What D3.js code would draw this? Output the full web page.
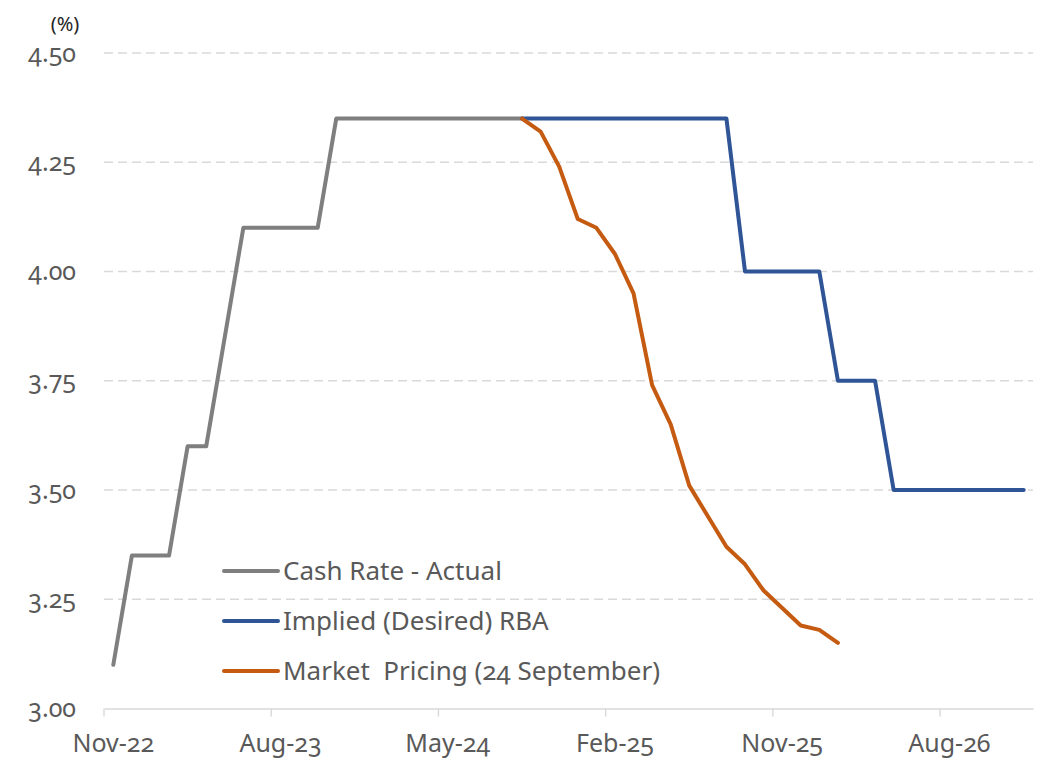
<!DOCTYPE html>
<html>
<head>
<meta charset="utf-8">
<script src="https://cdn.jsdelivr.net/npm/d3@7"></script>
<style>
  body { margin: 0; background: #fff; }
  svg { font-family: "Noto Sans", sans-serif; font-feature-settings: "onum"; }
</style>
</head>
<body>
<script>
// Months on the category axis: Nov-22 .. Dec-26 (50 categories)
const months = d3.utcMonth.range(new Date(Date.UTC(2022, 10, 1)), new Date(Date.UTC(2027, 0, 1)))
    .map(d3.utcFormat("%b-%y"));

// Cash rate actual, starting Nov-22
const cashRate = [3.10, 3.35, 3.35, 3.35, 3.60, 3.60, 3.85, 4.10, 4.10, 4.10, 4.10, 4.10,
    4.35, 4.35, 4.35, 4.35, 4.35, 4.35, 4.35, 4.35, 4.35, 4.35, 4.35];

// Implied (desired) RBA path, starting Sep-24
const impliedStart = 22;
const implied = [4.35, 4.35, 4.35, 4.35, 4.35, 4.35, 4.35, 4.35, 4.35, 4.35, 4.35, 4.35,
    4.00, 4.00, 4.00, 4.00, 4.00, 3.75, 3.75, 3.75,
    3.50, 3.50, 3.50, 3.50, 3.50, 3.50, 3.50, 3.50];

// Market pricing (24 September), starting Sep-24
const marketStart = 22;
const market = [4.35, 4.32, 4.24, 4.12, 4.10, 4.04, 3.95, 3.74, 3.65, 3.51, 3.44, 3.37,
    3.33, 3.27, 3.23, 3.19, 3.18, 3.15];

const yTicks = [3.00, 3.25, 3.50, 3.75, 4.00, 4.25, 4.50];
const xLabelEvery = 9;

const series = [
    { name: "Cash Rate - Actual", start: 0, values: cashRate, color: "#7f7f7f" },
    { name: "Implied (Desired) RBA", start: impliedStart, values: implied, color: "#2f5597" },
    { name: "Market  Pricing (24 September)", start: marketStart, values: market, color: "#c55a11" }
];

const width = 1050;
const height = 771;
const marginLeft = 104;
const marginRight = 17;
const marginTop = 53;
const marginBottom = 62.5;

const svg = d3.select("body").append("svg")
    .attr("width", width)
    .attr("height", height)
    .attr("viewBox", [0, 0, width, height]);

const x = d3.scaleBand()
    .domain(months)
    .range([marginLeft, width - marginRight])
    .padding(0);
const bw = x.bandwidth();

const y = d3.scaleLinear()
    .domain([3.0, 4.5])
    .range([height - marginBottom, marginTop]);

// Dashed gridlines
svg.append("g")
    .selectAll("line")
    .data(yTicks.slice(1))
    .join("line")
    .attr("x1", marginLeft)
    .attr("x2", width - marginRight)
    .attr("y1", d => y(d))
    .attr("y2", d => y(d))
    .attr("stroke", "#d9d9d9")
    .attr("stroke-width", 1.4)
    .attr("stroke-dasharray", "9,5");

// Y axis labels
svg.append("g")
    .attr("transform", `translate(${marginLeft},0)`)
    .call(d3.axisLeft(y).tickValues(yTicks).tickFormat(d3.format(".2f")).tickSize(0).tickPadding(28))
    .call(g => g.select(".domain").remove())
    .call(g => g.selectAll("text")
        .attr("fill", "#595959")
        .attr("font-size", 25)
        .attr("font-family", "\"Noto Sans\", sans-serif"));

svg.append("text")
    .attr("x", 65)
    .attr("y", 31)
    .attr("text-anchor", "middle")
    .attr("fill", "#262626")
    .attr("font-size", 20)
    .text("(%)");

// X axis: ticks between categories, label every 9 months
const labelMonths = months.filter((d, i) => i % xLabelEvery === 0);
svg.append("g")
    .attr("transform", `translate(0,${height - marginBottom})`)
    .call(d3.axisBottom(x).tickValues(labelMonths).tickSize(0).tickPadding(26))
    .call(g => g.select(".domain")
        .attr("stroke", "#d9d9d9")
        .attr("stroke-width", 1.4))
    .call(g => g.selectAll(".tick text")
        .attr("fill", "#595959")
        .attr("font-size", 25)
        .attr("font-family", "\"Noto Sans\", sans-serif"))
    .call(g => g.selectAll(".tick").append("line")
        .attr("x1", -bw / 2)
        .attr("x2", -bw / 2)
        .attr("y1", 0)
        .attr("y2", 8)
        .attr("stroke", "#d9d9d9")
        .attr("stroke-width", 1.4));

// Lines
const line = d3.line()
    .x(d => x(months[d.i]) + bw / 2)
    .y(d => y(d.v));

svg.append("g")
    .selectAll("path")
    .data(series)
    .join("path")
    .attr("fill", "none")
    .attr("stroke", d => d.color)
    .attr("stroke-width", 4)
    .attr("stroke-linejoin", "round")
    .attr("stroke-linecap", "round")
    .attr("d", s => line(s.values.map((v, k) => ({ i: s.start + k, v }))));

// Legend
const legend = svg.append("g")
    .selectAll("g")
    .data(series)
    .join("g")
    .attr("transform", (d, i) => `translate(224,${571 + i * 50})`);

legend.append("line")
    .attr("x1", 0)
    .attr("x2", 54)
    .attr("stroke", d => d.color)
    .attr("stroke-width", 4)
    .attr("stroke-linecap", "round");

legend.append("text")
    .attr("x", 59)
    .attr("dy", "0.35em")
    .attr("fill", "#595959")
    .attr("font-size", 26)
    .style("white-space", "pre")
    .text(d => d.name);
</script>
</body>
</html>
